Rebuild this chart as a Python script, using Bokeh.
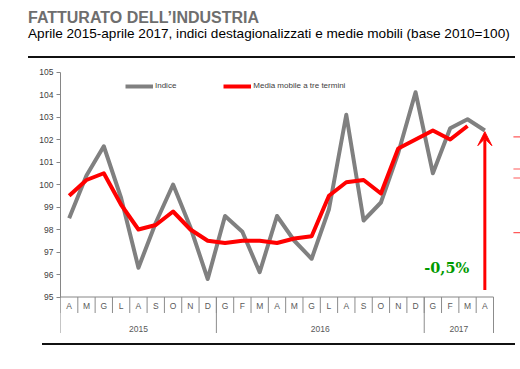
from bokeh.plotting import figure
from bokeh.models import Range1d, Div, Legend, LegendItem, Arrow, VeeHead, FixedTicker, Label
from bokeh.layouts import column
from bokeh.embed import file_html
from bokeh.resources import INLINE
from bokeh.core.properties import value

# ---------------- data ----------------
months = ["A", "M", "G", "L", "A", "S", "O", "N", "D",
          "G", "F", "M", "A", "M", "G", "L", "A", "S", "O", "N", "D",
          "G", "F", "M", "A"]
years = ["2015", "2016", "2017"]
months_per_year = [9, 12, 4]
indice = [98.5, 100.4, 101.7, 99.4, 96.3, 98.3, 100.0, 98.1, 95.8,
          98.6, 97.9, 96.1, 98.6, 97.5, 96.7, 98.9, 103.1, 98.4, 99.2, 101.4, 104.1,
          100.5, 102.5, 102.9, 102.4]
media = [99.5, 100.2, 100.5, 99.1, 98.0, 98.2, 98.8, 98.0, 97.5,
         97.4, 97.5, 97.5, 97.4, 97.6, 97.7, 99.5, 100.1, 100.2, 99.6, 101.6, 102.0,
         102.4, 102.0, 102.6]
y_ticks = [95, 96, 97, 98, 99, 100, 101, 102, 103, 104, 105]
change_label = "-0,5%"
side_marks = [102.12, 100.69, 100.29, 97.86]

title_text = "FATTURATO DELL\u2019INDUSTRIA"
subtitle_text = "Aprile 2015-aprile 2017, indici destagionalizzati e medie mobili (base 2010=100)"

# ---------------- layout helpers ----------------
PAGE = 8
n = len(months)
xc = [i + 0.5 for i in range(n)]
PX_X = 433 / n          # px per category
PX_Y = 22.5             # px per index point
FRAME_W = 460
FRAME_H = 284
y_top = max(y_ticks) + 13.5 / PX_Y
y_bot = y_top - FRAME_H / PX_Y

p = figure(width=512, height=FRAME_H, output_backend="svg", toolbar_location=None,
           x_range=Range1d(0, FRAME_W / PX_X), y_range=Range1d(y_bot, y_top),
           x_axis_location=None, min_border_left=52, min_border_right=0,
           min_border_top=0, min_border_bottom=0, margin=(0, 0, 0, PAGE))
p.outline_line_color = None
p.grid.visible = False
p.background_fill_color = "white"

ax = p.yaxis[0]
ax.bounds = (min(y_ticks), max(y_ticks))
ax.ticker = FixedTicker(ticks=y_ticks)
ax.axis_line_color = "#868686"
ax.major_tick_line_color = "#868686"
ax.major_tick_out = 4
ax.major_tick_in = 0
ax.minor_tick_line_color = None
ax.major_label_text_font = "Liberation Sans"
ax.major_label_text_font_size = "8.5px"
ax.major_label_text_color = "#404040"
ax.major_label_standoff = 3

# x axis drawn by hand: axis line, separators, month and year labels
base = min(y_ticks)
p.segment(x0=[0], y0=[base], x1=[n], y1=[base], line_color="#868686", line_width=1)
p.segment(x0=list(range(n + 1)), y0=[base] * (n + 1), x1=list(range(n + 1)),
          y1=[base - 16 / PX_Y] * (n + 1), line_color="#8c8c8c", line_width=1)
bounds = [0]
for c in months_per_year:
    bounds.append(bounds[-1] + c)
p.segment(x0=bounds, y0=[base] * len(bounds), x1=bounds,
          y1=[base - 36 / PX_Y] * len(bounds), line_color="#8c8c8c", line_width=1)
p.text(x=xc, y=[base - 9 / PX_Y] * n, text=months, text_align="center",
       text_baseline="middle", text_font=value("Liberation Sans"),
       text_font_size="8.5px", text_color="#595959")
year_c = [(bounds[i] + bounds[i + 1]) / 2 for i in range(len(years))]
p.text(x=year_c, y=[base - 32 / PX_Y] * len(years), text=years, text_align="center",
       text_baseline="middle", text_font=value("Liberation Sans"),
       text_font_size="8.5px", text_color="#595959")

# series
r1 = p.line(xc, indice, line_color="#808080", line_width=4, line_join="round")
r2 = p.line(xc[:len(media)], media, line_color="#ff0000", line_width=4, line_join="round")

legend = Legend(items=[LegendItem(label="Indice", renderers=[r1]),
                       LegendItem(label="Media mobile a tre termini", renderers=[r2])],
                orientation="horizontal", location=(65, FRAME_H - 32),
                padding=0, margin=0, spacing=47, glyph_width=28, glyph_height=8,
                label_height=8, label_standoff=2, label_text_font="Liberation Sans",
                label_text_font_size="8px", label_text_color="#404040",
                border_line_color=None, background_fill_alpha=0)
p.add_layout(legend)

# arrow and change annotation
p.add_layout(Arrow(end=VeeHead(size=14, fill_color="#ff0000", line_color="#ff0000", line_width=1),
                   x_start=xc[-1], y_start=base + 7 / PX_Y, x_end=xc[-1], y_end=indice[-1] - 0.05,
                   line_color="#ff0000", line_width=3))
p.add_layout(Label(x=22.3, y=96.33, text=change_label, text_font="DejaVu Serif",
                   text_font_style="bold", text_font_size="14.5px", text_color="#009a00",
                   text_align="center", text_baseline="middle"))

# clipped red marks at the right edge
p.segment(x0=[26.15] * len(side_marks), y0=side_marks, x1=[FRAME_W / PX_X] * len(side_marks),
          y1=side_marks, line_color="#ff5a5a", line_width=1.2)

header = Div(text=(
    '<div style="font-family:\'Liberation Sans\',Arial,sans-serif;">'
    '<div style="font-size:16px;font-weight:bold;color:#6e6e6e;line-height:17px;white-space:nowrap;">'
    + title_text + '</div>'
    '<div style="font-size:13.6px;color:#000;line-height:15px;white-space:nowrap;">'
    + subtitle_text + '</div></div>'),
    width=487, height=47, margin=(PAGE + 1, 0, 0, PAGE + 20))
top_rule = Div(text="", width=487, height=2, margin=(0, 0, 0, PAGE + 20),
               styles={"background-color": "#111"})
bottom_rule = Div(text="", width=473, height=2, margin=(1, 0, 0, PAGE + 34),
                  styles={"background-color": "#111"})

layout = column(header, top_rule, p, bottom_rule, spacing=0)
open("out.html", "w").write(file_html(layout, INLINE))
